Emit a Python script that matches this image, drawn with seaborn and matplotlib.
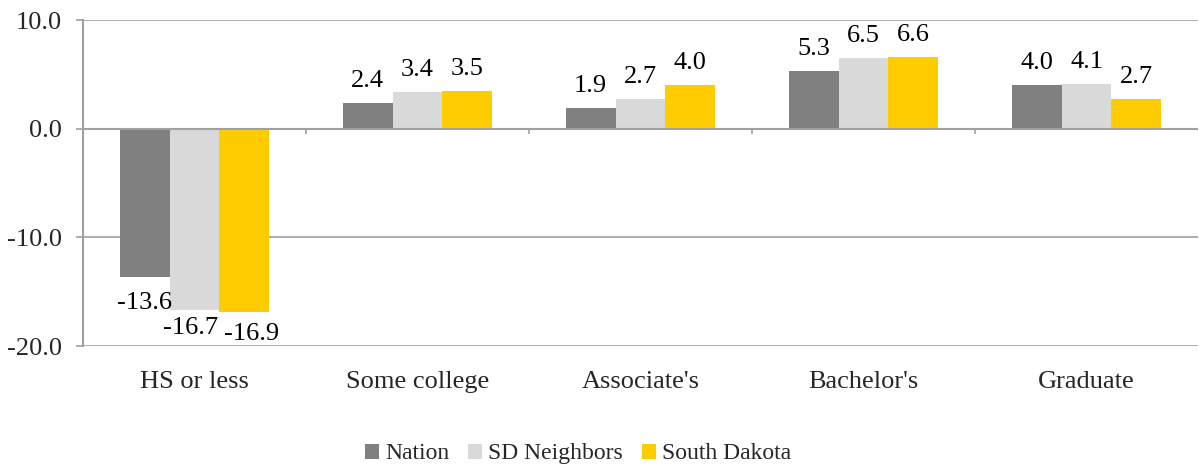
import matplotlib
matplotlib.use("Agg")
import matplotlib.pyplot as plt
import seaborn as sns
import pandas as pd

categories = ["HS or less", "Some college", "Associate's", "Bachelor's", "Graduate"]
series = ["Nation", "SD Neighbors", "South Dakota"]
nation = [-13.6, 2.4, 1.9, 5.3, 4.0]
neighbors = [-16.7, 3.4, 2.7, 6.5, 4.1]
south_dakota = [-16.9, 3.5, 4.0, 6.6, 2.7]
colors = ["#808080", "#D9D9D9", "#FFCC00"]
yticks = [-20, -10, 0, 10]

rows = []
for s, vals in zip(series, [nation, neighbors, south_dakota]):
    for c, v in zip(categories, vals):
        rows.append({"cat": c, "series": s, "val": v})
df = pd.DataFrame(rows)

sns.set_theme(style="white")
plt.rcParams["font.family"] = ["Liberation Serif", "DejaVu Serif"]
FS = 19

fig = plt.figure(figsize=(11.99, 4.67), dpi=100)
ax = fig.add_axes([0.0692, 0.259, 0.93, 0.698])

sns.barplot(data=df, x="cat", y="val", hue="series", order=categories,
            hue_order=series, palette=colors, width=0.67, saturation=1,
            ax=ax, errorbar=None, linewidth=0)

neg_pad = [11, 5, 8]
neg_dx = [0, -3, 5]
for i, cont in enumerate(ax.containers):
    vals = cont.datavalues
    pos_labels = [f"{v:.1f}" if v >= 0 else "" for v in vals]
    neg_labels = [f"{v:.1f}" if v < 0 else "" for v in vals]
    ax.bar_label(cont, labels=pos_labels, padding=8, fontsize=FS, color="black")
    anns = ax.bar_label(cont, labels=neg_labels, padding=neg_pad[i], fontsize=FS,
                        color="black")
    for a in anns:
        dx, dy = a.xyann
        a.xyann = (dx + neg_dx[i], dy)

ax.set_ylim(-20, 10)
ax.set_xlim(-0.5, len(categories) - 0.5)
ax.set_yticks(yticks)
ax.set_yticklabels([f"{t:.1f}" for t in yticks], fontsize=FS)
for t in yticks:
    ax.axhline(t, color="#A0A0A0", linewidth=1.2, zorder=0)
ax.axhline(0, color="#A0A0A0", linewidth=1.5, zorder=3)
ax.vlines([i + 0.5 for i in range(len(categories) - 1)], -0.45, 0,
          color="#A0A0A0", linewidth=1.2, zorder=3)

for side in ["top", "right", "bottom"]:
    ax.spines[side].set_visible(False)
ax.spines["left"].set_color("#A0A0A0")
ax.spines["left"].set_linewidth(1.5)
ax.tick_params(axis="y", length=5, width=1.2, color="#A0A0A0", left=True, pad=10)
ax.tick_params(axis="x", length=0, labelsize=FS, pad=18)
ax.set_xlabel("")
ax.set_ylabel("")

handles, labels = ax.get_legend_handles_labels()
ax.get_legend().remove()
fig.legend(handles, labels, loc="center", bbox_to_anchor=(0.482, 0.028),
           ncol=3, frameon=False, fontsize=17,
           handlelength=0.6, handleheight=0.6, handletextpad=0.25, columnspacing=0.8,
           borderaxespad=0)

fig.savefig("out.png", dpi=100)
